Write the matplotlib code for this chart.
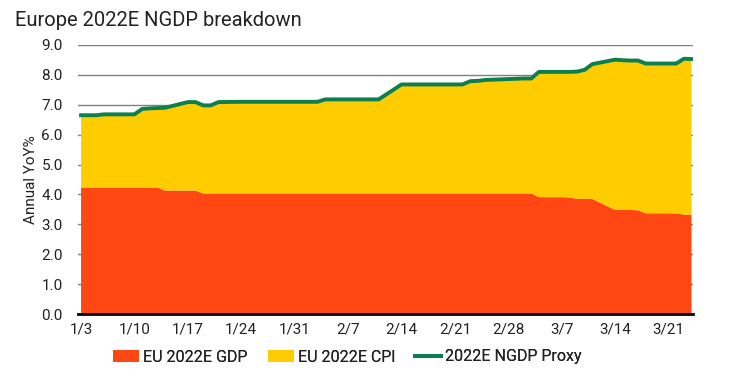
import numpy as np
import matplotlib
matplotlib.use("Agg")
import matplotlib.pyplot as plt
from matplotlib.patches import Patch
from matplotlib.lines import Line2D

plt.rcParams['font.family'] = ['Roboto', 'DejaVu Sans']

dates = ["2022-01-03", "2022-01-04", "2022-01-05", "2022-01-06", "2022-01-07",
         "2022-01-10", "2022-01-11", "2022-01-12", "2022-01-13", "2022-01-14",
         "2022-01-17", "2022-01-18", "2022-01-19", "2022-01-20", "2022-01-21",
         "2022-01-24", "2022-01-25", "2022-01-26", "2022-01-27", "2022-01-28",
         "2022-01-31", "2022-02-01", "2022-02-02", "2022-02-03", "2022-02-04",
         "2022-02-07", "2022-02-08", "2022-02-09", "2022-02-10", "2022-02-11",
         "2022-02-14", "2022-02-15", "2022-02-16", "2022-02-17", "2022-02-18",
         "2022-02-21", "2022-02-22", "2022-02-23", "2022-02-24", "2022-02-25",
         "2022-02-28", "2022-03-01", "2022-03-02", "2022-03-03", "2022-03-04",
         "2022-03-07", "2022-03-08", "2022-03-09", "2022-03-10", "2022-03-11",
         "2022-03-14", "2022-03-15", "2022-03-16", "2022-03-17", "2022-03-18",
         "2022-03-21", "2022-03-22", "2022-03-23", "2022-03-24"]

eu_gdp = [4.23, 4.23, 4.23, 4.23, 4.23,
          4.23, 4.23, 4.23, 4.23, 4.13,
          4.13, 4.13, 4.03, 4.03, 4.03,
          4.03, 4.03, 4.03, 4.03, 4.03,
          4.03, 4.03, 4.03, 4.03, 4.03,
          4.03, 4.03, 4.03, 4.03, 4.03,
          4.03, 4.03, 4.03, 4.03, 4.03,
          4.03, 4.03, 4.03, 4.03, 4.03,
          4.03, 4.03, 4.03, 4.03, 3.91,
          3.91, 3.90, 3.85, 3.85, 3.85,
          3.48, 3.48, 3.48, 3.47, 3.37,
          3.37, 3.36, 3.33, 3.32]

eu_cpi = [2.42, 2.42, 2.42, 2.45, 2.45,
          2.45, 2.63, 2.65, 2.66, 2.77,
          2.96, 2.96, 2.95, 2.95, 3.06,
          3.07, 3.07, 3.07, 3.07, 3.07,
          3.07, 3.07, 3.07, 3.07, 3.15,
          3.15, 3.15, 3.15, 3.15, 3.15,
          3.65, 3.65, 3.65, 3.65, 3.65,
          3.65, 3.65, 3.76, 3.77, 3.80,
          3.83, 3.84, 3.85, 3.85, 4.19,
          4.19, 4.20, 4.26, 4.32, 4.51,
          5.03, 5.01, 5.00, 5.01, 5.01,
          5.01, 5.02, 5.21, 5.21]

ngdp_proxy = [6.65, 6.65, 6.65, 6.68, 6.68,
              6.68, 6.86, 6.88, 6.89, 6.90,
              7.09, 7.09, 6.98, 6.98, 7.09,
              7.10, 7.10, 7.10, 7.10, 7.10,
              7.10, 7.10, 7.10, 7.10, 7.18,
              7.18, 7.18, 7.18, 7.18, 7.18,
              7.68, 7.68, 7.68, 7.68, 7.68,
              7.68, 7.68, 7.79, 7.80, 7.83,
              7.86, 7.87, 7.88, 7.88, 8.10,
              8.10, 8.10, 8.11, 8.17, 8.36,
              8.51, 8.49, 8.48, 8.48, 8.38,
              8.38, 8.38, 8.54, 8.53]

tick_dates = ["2022-01-03", "2022-01-10", "2022-01-17", "2022-01-24", "2022-01-31",
              "2022-02-07", "2022-02-14", "2022-02-21", "2022-02-28", "2022-03-07",
              "2022-03-14", "2022-03-21"]
tick_labels = ["1/3", "1/10", "1/17", "1/24", "1/31", "2/7", "2/14", "2/21",
               "2/28", "3/7", "3/14", "3/21"]

series_names = ["EU 2022E GDP", "EU 2022E CPI", "2022E NGDP Proxy"]
title = "Europe 2022E NGDP breakdown"
ylabel = "Annual YoY%"

RED = "#FF4713"
YELLOW = "#FFCC00"
GREEN = "#0B7F4F"
TXT = "#222222"

base = np.datetime64("2022-01-03")
x = (np.array(dates, dtype="datetime64[D]") - base).astype(float)
xt = (np.array(tick_dates, dtype="datetime64[D]") - base).astype(float)

fig = plt.figure(figsize=(7.40, 3.84), dpi=100)
ax = fig.add_axes([78/740, 70/384, 615/740, 269/384])

ax.stackplot(x, eu_gdp, eu_cpi, colors=[RED, YELLOW], linewidth=0, zorder=2)
ax.plot(x, ngdp_proxy, color=GREEN, linewidth=2.8, zorder=3, solid_joinstyle='round')

ax.set_xlim(-0.4, 80.2)
ax.set_ylim(0, 9)
ax.set_yticks(np.arange(0, 9.01, 1.0))
ax.set_yticklabels([f"{v:.1f}" for v in np.arange(0, 9.01, 1.0)])
ax.set_xticks(xt)
ax.set_xticklabels(tick_labels)
ax.grid(axis='y', color='#808080', linewidth=1.0, zorder=1)
ax.set_axisbelow(True)
for s in ['top', 'right', 'left']:
    ax.spines[s].set_visible(False)
ax.spines['bottom'].set_color('black')
ax.spines['bottom'].set_linewidth(2.0)
ax.spines['bottom'].set_zorder(4)
ax.tick_params(axis='both', length=0, labelsize=11, colors=TXT)
ax.tick_params(axis='y', pad=11)
ax.tick_params(axis='x', pad=6)
ax.set_ylabel(ylabel, fontsize=11, color=TXT, labelpad=2)

fig.text(15/740, 1 - 20/384, title, fontsize=14.5, color=TXT, va='center', ha='left')

handles = [Patch(facecolor=RED, edgecolor='none'),
           Patch(facecolor=YELLOW, edgecolor='none'),
           Line2D([0], [0], color=GREEN, linewidth=2.8)]
legend_x = [113, 268, 415]
for h, name, lx in zip(handles, series_names, legend_x):
    lg = fig.legend([h], [name], loc='center left', bbox_to_anchor=(lx/740, 1 - 357/384),
                    frameon=False, fontsize=11.5, handlelength=1.6, handleheight=0.8,
                    handletextpad=0.25, borderpad=0, borderaxespad=0, labelcolor=TXT)
    fig.add_artist(lg)

fig.savefig("out.png", dpi=100)
